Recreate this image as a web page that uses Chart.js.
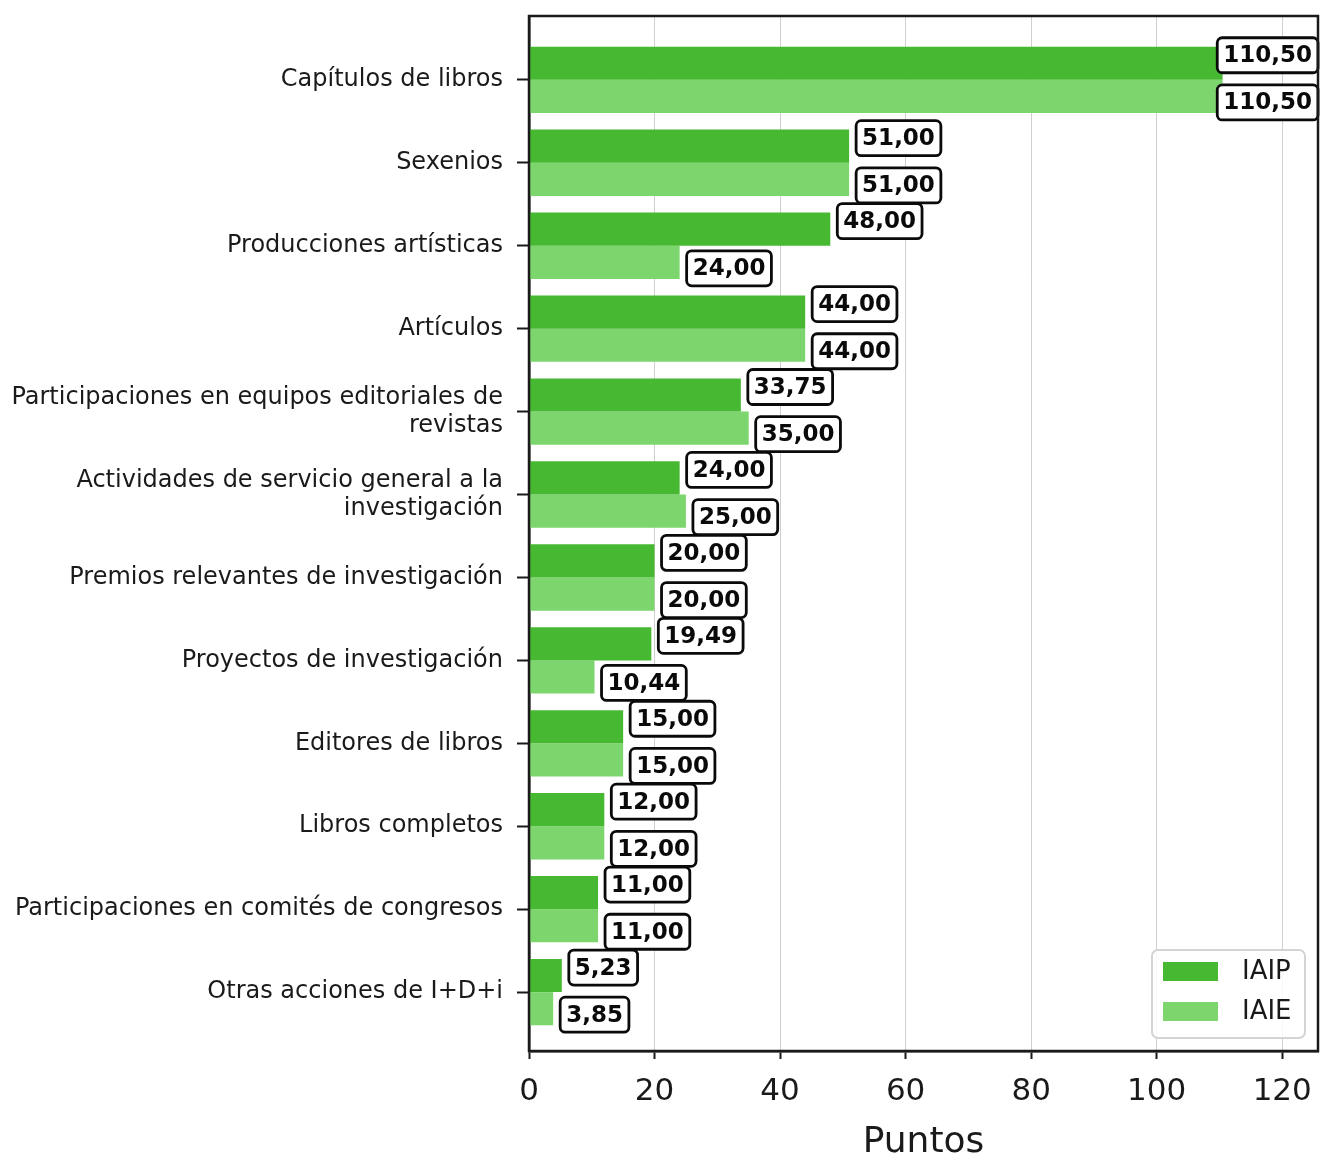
<!DOCTYPE html>
<html>
<head>
<meta charset="utf-8">
<script src="https://cdn.jsdelivr.net/npm/chart.js@4.4.1/dist/chart.umd.min.js"></script>
<style>
  html, body { margin: 0; padding: 0; background: #fff; }
  #wrap { width: 1320px; height: 1155px; }
</style>
</head>
<body>
<div id="wrap"><canvas id="chart" width="1320" height="1155"></canvas></div>
<script>
// categories, top to bottom
const categories = [
  'Capítulos de libros',
  'Sexenios',
  'Producciones artísticas',
  'Artículos',
  ['Participaciones en equipos editoriales de', 'revistas'],
  ['Actividades de servicio general a la', 'investigación'],
  'Premios relevantes de investigación',
  'Proyectos de investigación',
  'Editores de libros',
  'Libros completos',
  'Participaciones en comités de congresos',
  'Otras acciones de I+D+i'
];
const iaip = [110.50, 51.00, 48.00, 44.00, 33.75, 24.00, 20.00, 19.49, 15.00, 12.00, 11.00, 5.23];
const iaie = [110.50, 51.00, 24.00, 44.00, 35.00, 25.00, 20.00, 10.44, 15.00, 12.00, 11.00, 3.85];
const xTicks = [0, 20, 40, 60, 80, 100, 120];

const FONT = "'DejaVu Sans', 'Liberation Sans', sans-serif";
const INK = '#1a1a1a';
const colIAIP = '#47b832';
const colIAIE = '#7dd66d';

const fmt = v => v.toFixed(2).replace('.', ',');

// box round the plot + boxed value labels + legend in lower right
const decor = {
  id: 'decor',
  afterDatasetsDraw(chart) {
    const ctx = chart.ctx;
    const a = chart.chartArea;
    ctx.save();
    ctx.font = 'bold 23px ' + FONT;
    ctx.textBaseline = 'middle';
    ctx.textAlign = 'left';
    chart.data.datasets.forEach((ds, di) => {
      const meta = chart.getDatasetMeta(di);
      meta.data.forEach((bar, i) => {
        const txt = fmt(ds.data[i].x);
        const w = ctx.measureText(txt).width + 12;
        const h = 35;
        let left = bar.x + 7;
        if (left + w > a.right) left = a.right - w;
        const cy = bar.y + (di === 0 ? -8 : 6);
        ctx.beginPath();
        ctx.roundRect(left, cy - h / 2, w, h, 5);
        ctx.fillStyle = '#fff';
        ctx.fill();
        ctx.lineWidth = 2.8;
        ctx.strokeStyle = '#0a0a0a';
        ctx.stroke();
        ctx.fillStyle = '#0a0a0a';
        ctx.fillText(txt, left + 6, cy + 1);
      });
    });

    // legend
    const lw = 153, lh = 88;
    const lx = a.right - 13 - lw, ly = a.bottom - 13 - lh;
    ctx.beginPath();
    ctx.roundRect(lx, ly, lw, lh, 6);
    ctx.fillStyle = 'rgba(255,255,255,0.85)';
    ctx.fill();
    ctx.lineWidth = 2;
    ctx.strokeStyle = '#d4d4d4';
    ctx.stroke();
    ctx.font = '26px ' + FONT;
    chart.data.datasets.forEach((ds, di) => {
      const sy = ly + 12 + di * 40;
      ctx.fillStyle = ds.backgroundColor;
      ctx.fillRect(lx + 11, sy, 55, 19);
      ctx.fillStyle = INK;
      ctx.fillText(ds.label, lx + 90, sy + 10);
    });

    // frame
    ctx.lineWidth = 2.5;
    ctx.strokeStyle = INK;
    ctx.strokeRect(a.left, a.top, a.right - a.left, a.bottom - a.top);
    ctx.restore();
  }
};

new Chart(document.getElementById('chart'), {
  type: 'bar',
  data: {
    datasets: [
      { label: 'IAIP', data: iaip.map((v, i) => ({ x: v, y: i })), backgroundColor: colIAIP },
      { label: 'IAIE', data: iaie.map((v, i) => ({ x: v, y: i })), backgroundColor: colIAIE }
    ]
  },
  options: {
    indexAxis: 'y',
    responsive: false,
    animation: false,
    layout: { padding: { top: 16, right: 2, left: 0, bottom: 0 } },
    datasets: { bar: { categoryPercentage: 0.8, barPercentage: 1.0 } },
    plugins: { legend: { display: false }, tooltip: { enabled: false } },
    scales: {
      x: {
        type: 'linear',
        min: 0,
        max: 125.7,
        offset: false,
        afterBuildTicks: s => { s.ticks = xTicks.map(v => ({ value: v })); },
        afterFit: s => { s.height = 104; s.paddingLeft = 0; s.paddingRight = 0; },
        grid: {
          offset: false,
          color: '#cfcfcf',
          lineWidth: 1,
          borderDash: [6, 4],
          tickColor: INK,
          tickWidth: 2,
          tickLength: 8,
          tickBorderDash: [1, 0]
        },
        border: { color: INK, width: 2.5 },
        ticks: { color: INK, font: { family: FONT, size: 31 }, padding: 14, maxRotation: 0 },
        title: { display: true, text: 'Puntos', color: INK, font: { family: FONT, size: 36 }, padding: { top: 0, bottom: -9 } }
      },
      y: {
        type: 'linear',
        reverse: true,
        min: -0.77,
        max: 11.71,
        offset: false,
        afterBuildTicks: s => { s.ticks = categories.map((c, i) => ({ value: i })); },
        afterFit: s => { s.width = 529; s.paddingTop = 0; s.paddingBottom = 0; },
        grid: { offset: false, drawOnChartArea: false, tickColor: INK, tickWidth: 2, tickLength: 12 },
        border: { color: INK, width: 2.5 },
        ticks: {
          autoSkip: false,
          color: INK,
          padding: 14,
          font: { family: FONT, size: 24, lineHeight: 1.17 },
          callback: v => categories[v]
        }
      }
    }
  },
  plugins: [decor]
});
</script>
</body>
</html>
